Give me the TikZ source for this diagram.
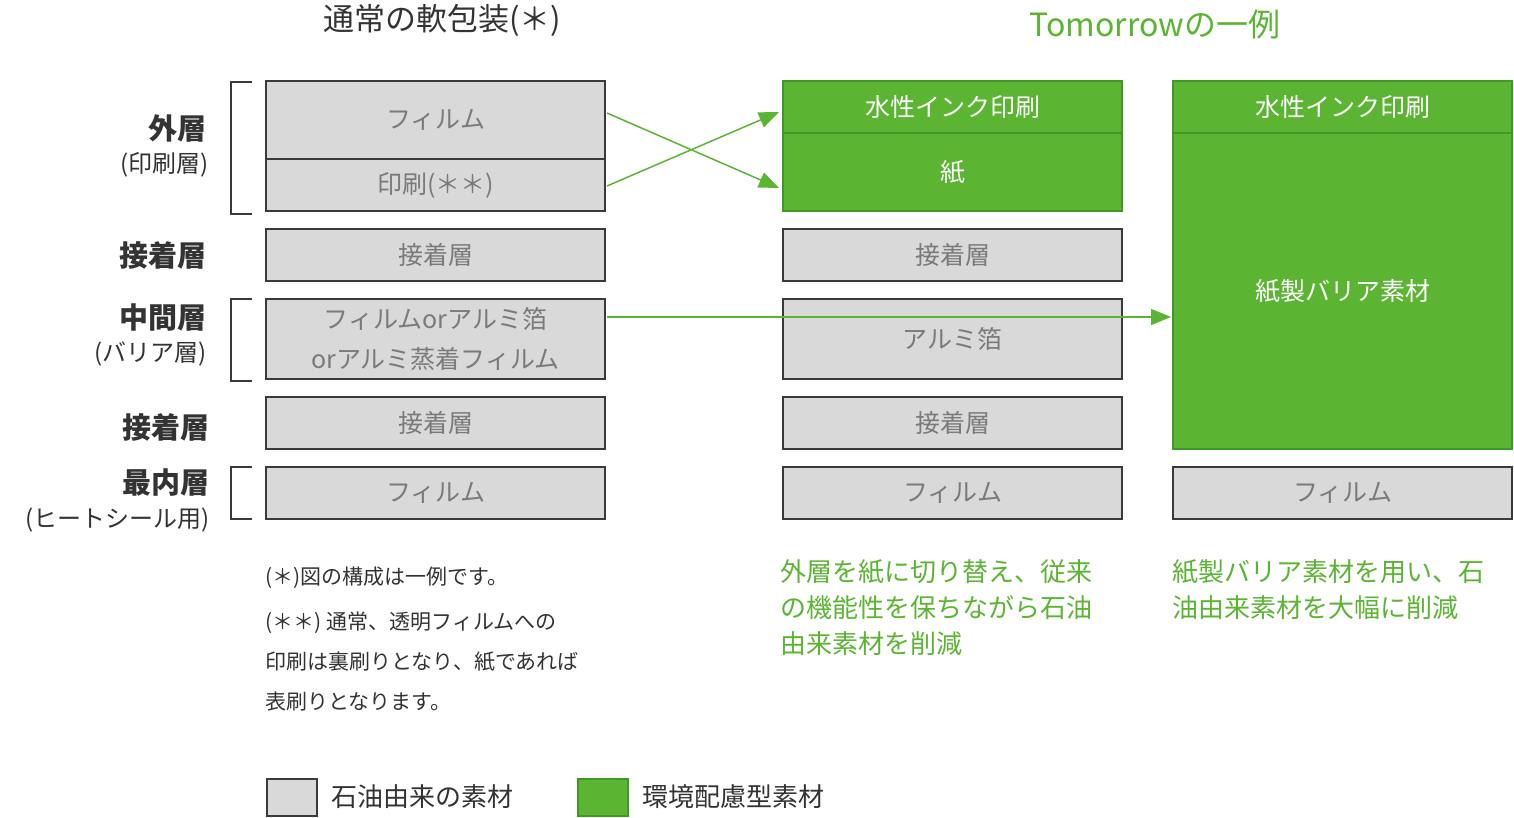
\documentclass[tikz,border=0pt]{standalone}
\usepackage{fontspec}
\setmainfont{Noto Sans CJK JP}
\newfontfamily\bfj{Noto Sans CJK JP Bold}
\usetikzlibrary{arrows.meta}
\definecolor{gfill}{HTML}{D9D9D9}
\definecolor{gline}{HTML}{3A3A3A}
\definecolor{grn}{HTML}{5BB432}
\definecolor{grnd}{HTML}{3E9A25}
\definecolor{gtext}{HTML}{7A7A7A}
\definecolor{dtext}{HTML}{333333}
\tikzset{
 gbox/.style={draw=gline,line width=1.5,fill=gfill,text=gtext,font=\fontsize{25}{33}\selectfont,align=center},
 nbox/.style={draw=grnd,line width=1.5,fill=grn,text=white,font=\fontsize{25}{33}\selectfont,align=center},
 lab/.style={text=dtext,font=\bfseries\fontsize{29}{33}\selectfont,anchor=east},
 sub/.style={text=dtext,font=\fontsize{24}{30}\selectfont,anchor=east},
 brk/.style={draw=gline,line width=1.5},
 arr/.style={draw=grn,line width=1.5,-{Triangle[length=20,width=16]}},
 note/.style={text=dtext,font=\fontsize{21}{40}\selectfont,anchor=west,align=left},
 gnote/.style={text=grn,font=\fontsize{26}{36}\selectfont,anchor=north west,align=left},
}
\newcommand{\bx}[6]{\node[#1,minimum width=#4-#3,minimum height=#6-#5,inner sep=0] (#2) at ({(#3+#4)/2},{(#5+#6)/2}) {};}
\begin{document}
\begin{tikzpicture}[x=1pt,y=-1pt]
\useasboundingbox (0,0) rectangle (1514,818);
% left column
\bx{gbox}{a1}{266}{605}{81}{159} \node[text=gtext,font=\fontsize{25}{30}\selectfont] at (a1) {フィルム};
\bx{gbox}{a2}{266}{605}{159}{211} \node[text=gtext,font=\fontsize{25}{30}\selectfont] at (a2) {印刷(＊＊)};
\bx{gbox}{a3}{266}{605}{229}{281} \node[text=gtext,font=\fontsize{25}{30}\selectfont] at (a3) {接着層};
\bx{gbox}{a4}{266}{605}{299}{379} \node[text=gtext,font=\fontsize{25}{40}\selectfont,align=center] at (a4) {フィルムorアルミ箔\\orアルミ蒸着フィルム};
\bx{gbox}{a5}{266}{605}{397}{449} \node[text=gtext,font=\fontsize{25}{30}\selectfont] at (a5) {接着層};
\bx{gbox}{a6}{266}{605}{467}{519} \node[text=gtext,font=\fontsize{25}{30}\selectfont] at (a6) {フィルム};
% middle column
\bx{nbox}{b1}{783}{1122}{81}{133} \node[text=white,font=\fontsize{25}{30}\selectfont] at (b1) {水性インク印刷};
\bx{nbox}{b2}{783}{1122}{133}{211} \node[text=white,font=\fontsize{25}{30}\selectfont] at (b2) {紙};
\bx{gbox}{b3}{783}{1122}{229}{281} \node[text=gtext,font=\fontsize{25}{30}\selectfont] at (b3) {接着層};
\bx{gbox}{b4}{783}{1122}{299}{379} \node[text=gtext,font=\fontsize{25}{30}\selectfont] at (b4) {アルミ箔};
\bx{gbox}{b5}{783}{1122}{397}{449} \node[text=gtext,font=\fontsize{25}{30}\selectfont] at (b5) {接着層};
\bx{gbox}{b6}{783}{1122}{467}{519} \node[text=gtext,font=\fontsize{25}{30}\selectfont] at (b6) {フィルム};
% right column
\bx{nbox}{c1}{1173}{1512}{81}{133} \node[text=white,font=\fontsize{25}{30}\selectfont] at (c1) {水性インク印刷};
\bx{nbox}{c2}{1173}{1512}{133}{449} \node[text=white,font=\fontsize{25}{30}\selectfont] at (c2) {紙製バリア素材};
\bx{gbox}{c6}{1173}{1512}{467}{519} \node[text=gtext,font=\fontsize{25}{30}\selectfont] at (c6) {フィルム};
% arrows
\coordinate (s1) at (607,113); \coordinate (e1) at (779,188);
\coordinate (s2) at (607,186); \coordinate (e2) at (779,112);
\coordinate (s3) at (607,317); \coordinate (e3) at (1171,317);
\draw[arr] (s1) -- (e1);
\draw[arr] (s2) -- (e2);
\draw[arr] (s3) -- (e3);
% titles
\node[text=dtext,font=\fontsize{31}{36}\selectfont] (t1) at (442,20) {通常の軟包装(＊)};
\node[text=grn,font=\fontsize{32}{36}\selectfont] (t2) at (1155,24) {Tomorrowの一例};
% left labels
\node[lab] (l1) at (210,128) {外層};
\node[sub] (l1s) at (212,165) {(印刷層)};
\node[lab] (l2) at (210,255) {接着層};
\node[lab] (l3) at (210,317) {中間層};
\node[sub] (l3s) at (210,354) {(バリア層)};
\node[lab] (l4) at (213,427) {接着層};
\node[lab] (l5) at (213,483) {最内層};
\node[sub] (l5s) at (213,520) {(ヒートシール用)};
\draw[brk] (252,82) -- (231,82) -- (231,214) -- (252,214);
\draw[brk] (252,299) -- (231,299) -- (231,381) -- (252,381);
\draw[brk] (252,467) -- (231,467) -- (231,519) -- (252,519);
% notes
\node[note] (n1) at (262,578) {(＊)図の構成は一例です。};
\node[note,anchor=north west] (n2) at (262,608) {(＊＊) 通常、透明フィルムへの\\印刷は裏刷りとなり、紙であれば\\表刷りとなります。};
\node[gnote] (n3) at (777,556) {外層を紙に切り替え、従来\\の機能性を保ちながら石油\\由来素材を削減};
\node[gnote] (n4) at (1169,556) {紙製バリア素材を用い、石\\油由来素材を大幅に削減};
% legend
\bx{gbox}{g1}{267}{317}{779}{816}
\node[text=dtext,font=\fontsize{26}{30}\selectfont,anchor=west] (g1t) at (328,797) {石油由来の素材};
\bx{nbox}{g2}{578}{628}{779}{816}
\node[text=dtext,font=\fontsize{26}{30}\selectfont,anchor=west] (g2t) at (639,797) {環境配慮型素材};
\end{tikzpicture}
\end{document}
